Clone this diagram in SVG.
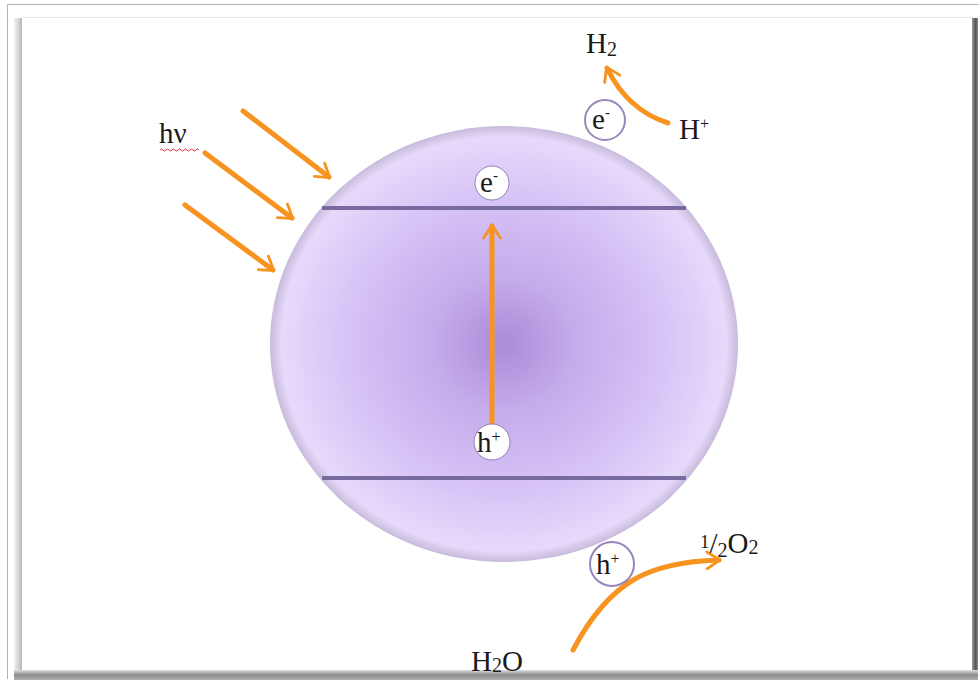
<svg xmlns="http://www.w3.org/2000/svg" width="979" height="682" viewBox="0 0 979 682">
<defs>
<radialGradient id="ball" cx="0.5" cy="0.5" r="0.5">
<stop offset="0" stop-color="#aa8bd7"/>
<stop offset="0.3" stop-color="#c4abeb"/>
<stop offset="0.7" stop-color="#d8c5f7"/>
<stop offset="0.95" stop-color="#e7d9fb"/>
<stop offset="1" stop-color="#c8bada"/>
</radialGradient>
<linearGradient id="lsh" x1="0" x2="1" y1="0" y2="0">
<stop offset="0" stop-color="#f4f4f4"/>
<stop offset="1" stop-color="#b8b8b8"/>
</linearGradient>
<linearGradient id="bsh" x1="0" x2="0" y1="0" y2="1">
<stop offset="0" stop-color="#e0e0e0"/>
<stop offset="0.5" stop-color="#8a8a8a"/>
<stop offset="1" stop-color="#b0b0b0"/>
</linearGradient>
<linearGradient id="rsh" x1="0" x2="1" y1="0" y2="0">
<stop offset="0" stop-color="#9a9a9a"/>
<stop offset="0.6" stop-color="#555"/>
<stop offset="1" stop-color="#888"/>
</linearGradient>
<marker id="ah" viewBox="0 0 10 10" refX="7.5" refY="5" markerWidth="4" markerHeight="4" orient="auto" markerUnits="strokeWidth">
<path d="M1.5,0.8 L8,5 L1.5,9.2" fill="none" stroke="#f7931e" stroke-width="1.4" stroke-linecap="round" stroke-linejoin="round"/>
</marker>
</defs>
<style>
.arr{fill:none;stroke:#f7931e;stroke-width:5;stroke-linecap:round;marker-end:url(#ah)}
.lbl{font-family:"Liberation Serif","DejaVu Serif",serif;font-size:29px;fill:#1a1a1a}
.band{stroke:#776a9f;stroke-width:4;stroke-linecap:butt}
.inner{fill:#ffffff;stroke:#8f80b5;stroke-width:1}
.outer{fill:#ffffff;stroke:#9886bb;stroke-width:2}
</style>
<rect width="979" height="682" fill="#ffffff"/>
<g id="frame">
<path d="M7.5,679 L7.5,4.5 L979,4.5" fill="none" stroke="#b4b4b4" stroke-width="1"/>
<rect x="14" y="18" width="8" height="655" fill="url(#lsh)"/>
<line x1="22" y1="17.5" x2="973" y2="17.5" stroke="#e6e6e6" stroke-width="1"/>
<rect x="972" y="18" width="6" height="657" fill="url(#rsh)"/>
<rect x="14" y="670" width="964" height="10" fill="url(#bsh)"/>
</g>
<g id="particle">
<ellipse cx="504" cy="344" rx="234" ry="218" fill="url(#ball)"/>
<line class="band" x1="322" y1="208" x2="686" y2="208"/>
<line class="band" x1="322" y1="478" x2="686" y2="478"/>
</g>
<g id="connectors">
<line class="arr" x1="492" y1="424" x2="492" y2="226"/>
<line class="arr" x1="243" y1="111" x2="329" y2="177"/>
<line class="arr" x1="205" y1="153" x2="292" y2="218"/>
<line class="arr" x1="185" y1="205" x2="273" y2="270"/>
<path class="arr" d="M668,123 C640,114 620,95 607,68"/>
<path class="arr" d="M573,650 C610,580 650,562 719,560"/>
</g>
<g id="cb-electron">
<circle class="inner" cx="492" cy="183" r="17"/>
<text class="lbl" font-size="27" x="480" y="192">e<tspan font-size="15" dy="-12">-</tspan></text>
</g>
<g id="vb-hole">
<circle class="inner" cx="492" cy="442" r="18"/>
<text class="lbl" font-size="27" x="477" y="452">h<tspan font-size="16" dy="-10">+</tspan></text>
</g>
<g id="surface-electron">
<circle class="outer" cx="605" cy="120" r="20"/>
<text class="lbl" font-size="27" x="592" y="129">e<tspan font-size="15" dy="-12">-</tspan></text>
</g>
<g id="surface-hole">
<circle class="outer" cx="612" cy="564" r="22"/>
<text class="lbl" font-size="27" x="596" y="574">h<tspan font-size="16" dy="-10">+</tspan></text>
</g>
<g id="hv">
<text class="lbl" x="159" y="143">hν</text>
<path d="M160,150 q1.5,-2 3,0 t3,0 t3,0 t3,0 t3,0 t3,0 t3,0 t3,0 t3,0 t3,0 t3,0 t3,0 t3,0" fill="none" stroke="#e0303a" stroke-width="1"/>
</g>
<g id="h2">
<text class="lbl" x="586" y="53">H<tspan font-size="20" dy="3">2</tspan></text>
</g>
<g id="hplus">
<text class="lbl" x="679" y="139">H<tspan font-size="16" dy="-10">+</tspan></text>
</g>
<g id="o2">
<text class="lbl" x="700" y="553"><tspan font-size="19" dy="-5">1</tspan><tspan dy="5">/</tspan><tspan font-size="20" dy="4">2</tspan><tspan dy="-4">O</tspan><tspan font-size="20" dy="1">2</tspan></text>
</g>
<g id="h2o">
<text class="lbl" x="471" y="671">H<tspan font-size="20" dy="1">2</tspan><tspan dy="-1">O</tspan></text>
</g>
</svg>
